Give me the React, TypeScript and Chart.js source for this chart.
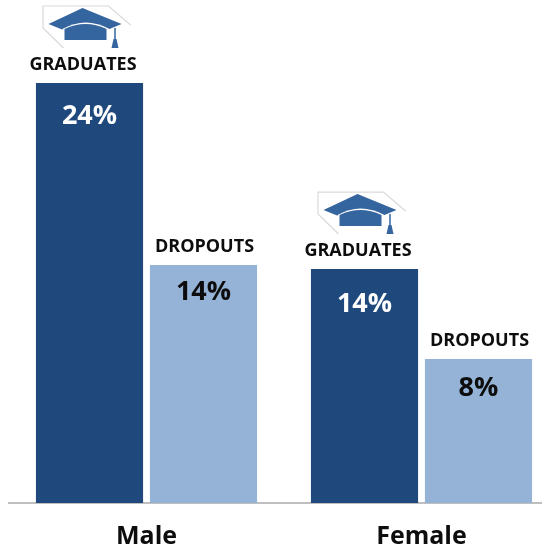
import React, { useEffect, useRef } from "react";
import { Chart, registerables } from "chart.js";

Chart.register(...registerables);

const categories = ["Male", "Female"];
const graduates = [24, 13.37];
const dropouts = [13.6, 8.23];
const graduateLabels = ["24%", "14%"];
const dropoutLabels = ["14%", "8%"];
const graduateName = "GRADUATES";
const dropoutName = "DROPOUTS";

const FONT = '"Open Sans", sans-serif';

function drawCap(ctx: CanvasRenderingContext2D, cx: number, top: number) {
  const X = (v: number) => cx + v;
  const Y = (v: number) => top + v;
  ctx.save();
  // pale outline behind the cap
  ctx.strokeStyle = "#d9d9d9";
  ctx.lineWidth = 1.2;
  ctx.beginPath();
  ctx.moveTo(X(41), Y(-58));
  ctx.lineTo(X(19), Y(-77));
  ctx.lineTo(X(-46.5), Y(-77));
  ctx.lineTo(X(-46.5), Y(-55));
  ctx.lineTo(X(-26), Y(-35));
  ctx.stroke();
  // mortarboard
  ctx.fillStyle = "#35659f";
  ctx.beginPath();
  ctx.moveTo(X(-7), Y(-75));
  ctx.lineTo(X(32), Y(-59));
  ctx.lineTo(X(-4), Y(-44));
  ctx.lineTo(X(-41), Y(-59));
  ctx.closePath();
  ctx.fill();
  // white arc and base
  ctx.fillStyle = "#ffffff";
  ctx.beginPath();
  ctx.moveTo(X(-27), Y(-54));
  ctx.quadraticCurveTo(X(-4), Y(-67), X(20), Y(-54));
  ctx.lineTo(X(20), Y(-42));
  ctx.lineTo(X(-27), Y(-42));
  ctx.closePath();
  ctx.fill();
  ctx.fillStyle = "#35659f";
  ctx.beginPath();
  ctx.moveTo(X(-25), Y(-54));
  ctx.quadraticCurveTo(X(-4), Y(-64), X(17), Y(-54));
  ctx.lineTo(X(17), Y(-43));
  ctx.lineTo(X(-25), Y(-43));
  ctx.closePath();
  ctx.fill();
  // tassel
  ctx.strokeStyle = "#35659f";
  ctx.lineWidth = 1.5;
  ctx.beginPath();
  ctx.moveTo(X(25.5), Y(-55));
  ctx.lineTo(X(25.5), Y(-44));
  ctx.stroke();
  ctx.beginPath();
  ctx.moveTo(X(24), Y(-44));
  ctx.lineTo(X(27), Y(-44));
  ctx.lineTo(X(29), Y(-35));
  ctx.lineTo(X(22), Y(-35));
  ctx.closePath();
  ctx.fill();
  ctx.restore();
}

const labelPlugin = {
  id: "barTexts",
  afterDatasetsDraw(chart: any) {
    const ctx: CanvasRenderingContext2D = chart.ctx;
    ctx.save();
    ctx.textAlign = "center";
    ctx.textBaseline = "middle";
    const valueOffsets = [[33, 35], [27, 29]];
    const nameShift = [-6.5, 1];
    const texts = [graduateLabels, dropoutLabels];
    const names = [graduateName, dropoutName];
    const colors = ["#ffffff", "#0d0d0d"];
    [0, 1].forEach((d) => {
      chart.getDatasetMeta(d).data.forEach((bar: any, i: number) => {
        ctx.font = `bold 27px ${FONT}`;
        ctx.fillStyle = colors[d];
        ctx.fillText(texts[d][i], bar.x, bar.y + valueOffsets[d][i]);
        ctx.font = `bold 18px ${FONT}`;
        ctx.fillStyle = "#0d0d0d";
        ctx.fillText(names[d], bar.x + nameShift[d], bar.y - 18);
        if (d === 0) drawCap(ctx, bar.x, bar.y);
      });
    });
    ctx.restore();
  },
};

export default function App() {
  const ref = useRef<HTMLCanvasElement>(null);
  useEffect(() => {
    const chart = new Chart(ref.current!, {
      type: "bar",
      data: {
        labels: categories,
        datasets: [
          { label: graduateName, data: graduates, backgroundColor: "#1f497d" },
          { label: dropoutName, data: dropouts, backgroundColor: "#95b3d7" },
        ],
      },
      options: {
        responsive: false,
        animation: false,
        layout: { padding: { left: 9, right: 11, top: 13, bottom: 0 } },
        plugins: { legend: { display: false }, tooltip: { enabled: false } },
        datasets: { bar: { categoryPercentage: 0.829, barPercentage: 0.94 } },
        scales: {
          x: {
            grid: { display: false, drawTicks: false },
            border: { color: "#bfbfbf", width: 2 },
            ticks: {
              color: "#0d0d0d",
              font: { family: FONT, size: 25, weight: "bold" },
              padding: 19,
              maxRotation: 0,
            },
            afterFit: (s: any) => {
              s.height = 47;
            },
          },
          y: { display: false, min: 0, max: 28 },
        },
      },
      plugins: [labelPlugin],
    } as any);
    return () => chart.destroy();
  }, []);
  return (
    <div style={{ position: "fixed", left: 0, top: 0, width: 542, height: 550, overflow: "hidden", background: "#fff" }}>
      <canvas ref={ref} width={570} height={550} style={{ display: "block", width: 570, height: 550 }} />
    </div>
  );
}
